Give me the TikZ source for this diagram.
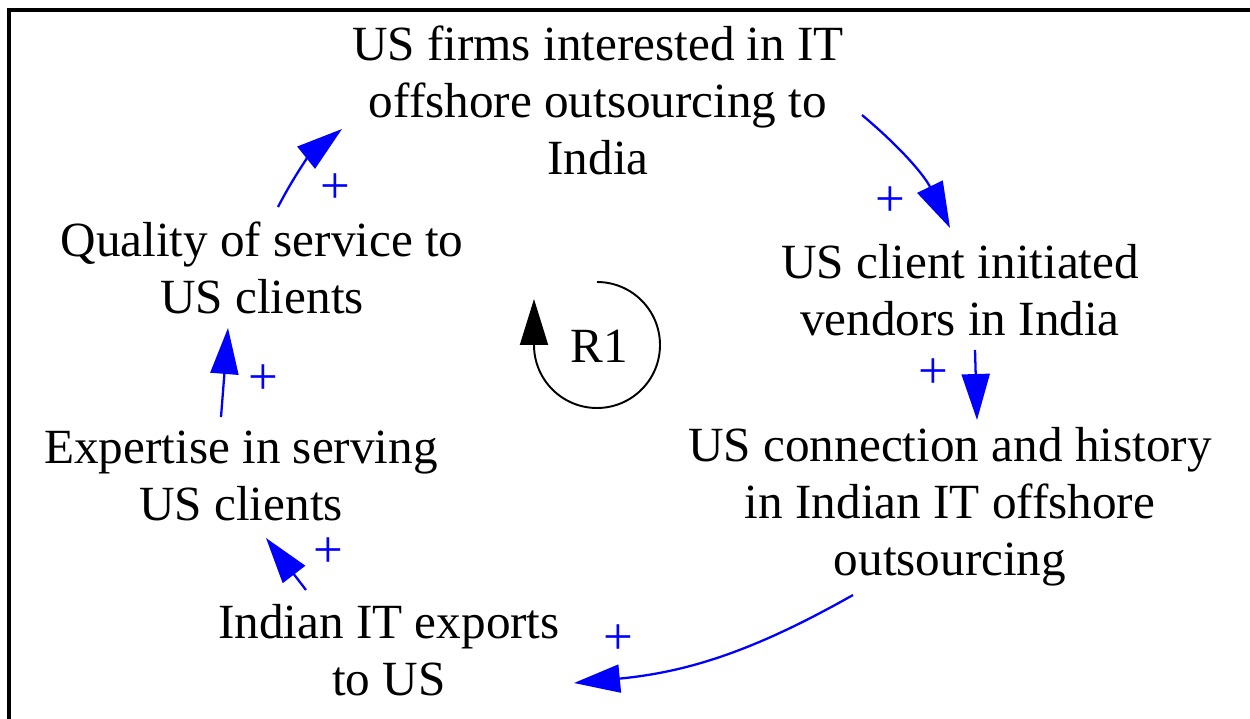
\documentclass[tikz,border=0pt]{standalone}
\usepackage{fontspec}
\setmainfont{Liberation Serif}
\usetikzlibrary{arrows.meta}
\begin{document}
\begin{tikzpicture}[x=0.02cm,y=-0.02cm,
  var/.style={align=center,font=\fontsize{28}{32.4}\selectfont,inner sep=0pt},
  link/.style={blue,line width=1.3pt,-{Triangle[length=0.92cm,width=0.56cm]}},
  pol/.style={blue,font=\fontsize{30}{30}\selectfont,inner sep=0pt},
  loopmark/.style={black,line width=1.1pt,-{Triangle[length=0.92cm,width=0.56cm]}}]
\useasboundingbox (0,0) rectangle (1250,719);
\draw[line width=2.2pt] (9,719) -- (9,10) -- (1250,10);

\node[var] (top) at (598,100) {US firms interested in IT\\offshore outsourcing to\\India};
\node[var] (client) at (960,290) {US client initiated\\vendors in India};
\node[var] (conn) at (950,507) {US connection and history\\in Indian IT offshore\\outsourcing};
\node[var] (exports) at (389,650) {Indian IT exports\\to US};
\node[var] (expert) at (241,476) {Expertise in serving\\US clients};
\node[var] (quality) at (262,268) {Quality of service to\\US clients};

\coordinate (a1s) at (862,115); \coordinate (a1e) at (950,228);
\coordinate (a2s) at (975,350); \coordinate (a2e) at (977,420);
\coordinate (a3s) at (853,595); \coordinate (a3e) at (574,683);
\coordinate (a4s) at (306,590); \coordinate (a4e) at (266,538);
\coordinate (a5s) at (221,417); \coordinate (a5e) at (228,328);
\coordinate (a6s) at (278,207); \coordinate (a6e) at (342,129);

\draw[link] (a1s) to[bend left=12] (a1e);
\draw[link] (a2s) -- (a2e);
\draw[link] (a3s) to[bend left=12] (a3e);
\draw[link] (a4s) -- (a4e);
\draw[link] (a5s) -- (a5e);
\draw[link] (a6s) to[bend left=12] (a6e);

\node[pol] (p1) at (890,202) {+};
\node[pol] (p2) at (933,374) {+};
\node[pol] (p3) at (618,640) {+};
\node[pol] (p4) at (328,553) {+};
\node[pol] (p5) at (263,380) {+};
\node[pol] (p6) at (335,189) {+};

\node[var] (r1) at (599,346) {R1};
\coordinate (lc) at (597,345);
\draw[loopmark] (597,282) arc[start angle=-90,end angle=180,radius=63] -- (534,299);
\end{tikzpicture}
\end{document}
